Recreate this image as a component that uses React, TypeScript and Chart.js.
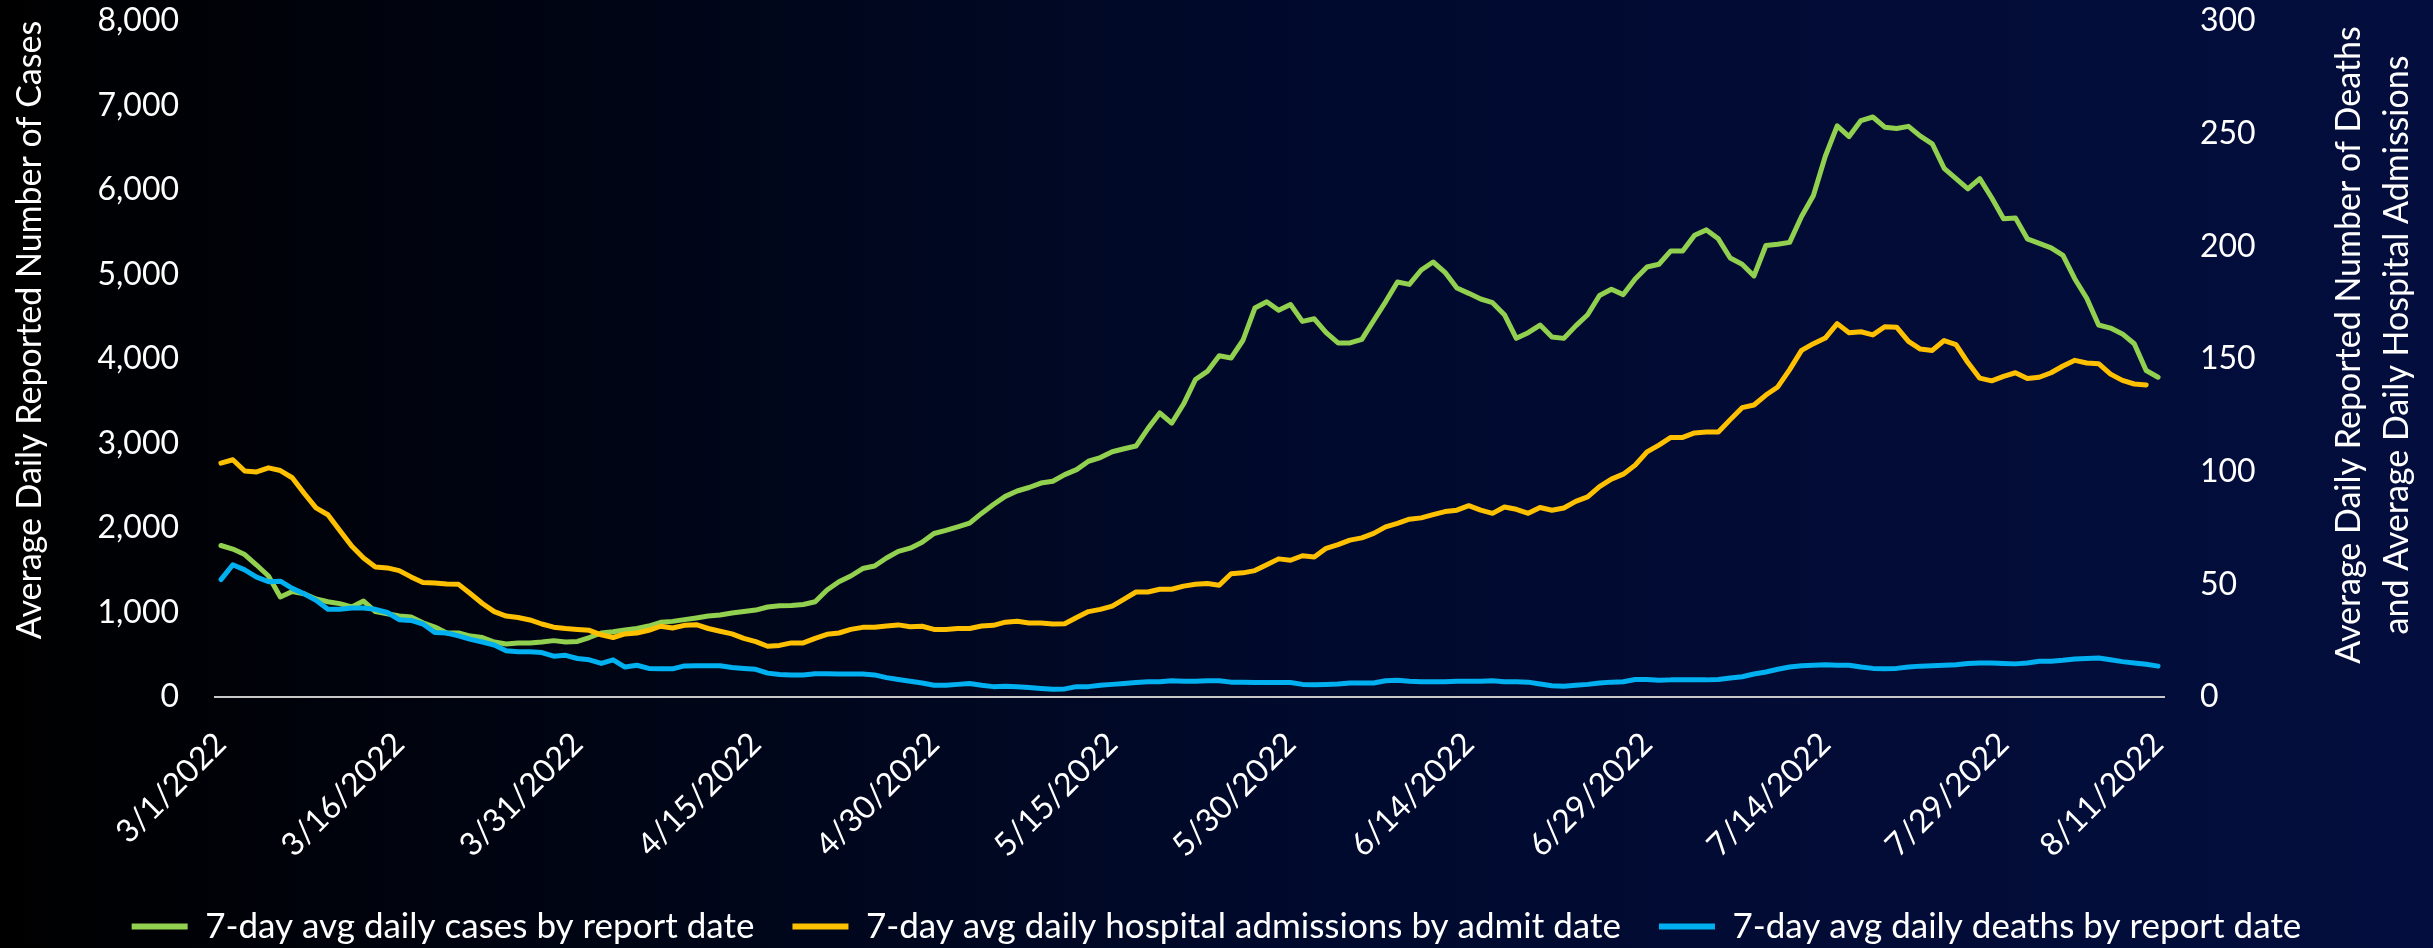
import React, { useEffect, useRef } from 'react';
import { Chart, registerables } from 'chart.js';

Chart.register(...registerables);

// 7-day avg daily cases by report date (left axis), one value per day from 3/1/2022
const CASES: number[] = [
  1793, 1751, 1686, 1562, 1432, 1183, 1248, 1221, 1160, 1127,
  1105, 1065, 1136, 1011, 985, 958, 947, 878, 828, 757,
  757, 721, 704, 651, 627, 639, 639, 651, 667, 651,
  657, 704, 757, 773, 793, 810, 840, 884, 895, 916,
  936, 958, 970, 994, 1011, 1029, 1065, 1079, 1084, 1095,
  1127, 1266, 1364, 1432, 1520, 1550, 1645, 1724, 1761, 1830,
  1935, 1972, 2014, 2057, 2173, 2278, 2374, 2438, 2479, 2532,
  2553, 2632, 2691, 2790, 2833, 2902, 2938, 2970, 3176, 3361,
  3240, 3467, 3757, 3853, 4038, 4012, 4222, 4603, 4677, 4576,
  4645, 4445, 4476, 4312, 4190, 4190, 4233, 4456, 4677, 4911,
  4883, 5053, 5148, 5026, 4840, 4777, 4710, 4666, 4524, 4245,
  4312, 4402, 4260, 4244, 4392, 4524, 4751, 4825, 4762, 4947,
  5089, 5121, 5279, 5279, 5464, 5528, 5422, 5195, 5121, 4983,
  5343, 5358, 5380, 5686, 5935, 6399, 6758, 6632, 6822, 6864,
  6743, 6727, 6753, 6637, 6547, 6257, 6135, 6014, 6135, 5908,
  5660, 5670, 5422, 5369, 5316, 5226, 4947, 4719, 4402, 4366,
  4297, 4180, 3864, 3784,
];

// 7-day avg daily hospital admissions by admit date (right axis)
const ADMISSIONS: number[] = [
  103.8, 105.3, 100.3, 99.9, 101.7, 100.5, 97.3, 90.4, 83.9, 80.9,
  73.9, 67.0, 61.7, 57.7, 57.3, 56.1, 53.3, 50.8, 50.6, 50.2,
  50.0, 45.8, 41.5, 37.9, 35.9, 35.3, 34.2, 32.4, 31.0, 30.4,
  30.0, 29.6, 27.6, 26.4, 28.0, 28.4, 29.6, 31.4, 30.6, 31.8,
  32.1, 30.4, 29.2, 28.0, 26.0, 24.6, 22.5, 22.9, 24.0, 24.0,
  26.0, 27.8, 28.4, 30.0, 30.9, 31.0, 31.5, 32.0, 31.2, 31.4,
  30.0, 30.0, 30.4, 30.4, 31.5, 31.8, 33.2, 33.6, 32.8, 32.8,
  32.4, 32.5, 35.3, 37.9, 38.9, 40.3, 43.4, 46.6, 46.6, 47.8,
  47.8, 49.2, 50.0, 50.4, 49.6, 54.7, 55.1, 56.1, 58.7, 61.3,
  60.7, 62.7, 62.1, 66.0, 67.6, 69.6, 70.6, 72.6, 75.5, 77.1,
  78.9, 79.5, 80.9, 82.3, 82.9, 84.9, 82.9, 81.5, 84.3, 83.3,
  81.5, 84.1, 82.9, 83.9, 86.8, 88.8, 93.4, 96.7, 98.9, 102.9,
  108.8, 111.8, 115.2, 115.2, 117.2, 117.6, 117.6, 123.1, 128.4, 129.6,
  134.0, 137.6, 145.3, 153.8, 156.8, 159.3, 165.7, 161.7, 162.1, 160.7,
  164.3, 164.1, 157.8, 154.4, 153.8, 158.2, 156.4, 148.4, 141.5, 140.3,
  142.3, 143.9, 141.3, 141.9, 143.9, 146.9, 149.4, 148.2, 147.9, 143.3,
  140.5, 138.9, 138.5,
];

// 7-day avg daily deaths by report date (right axis)
const DEATHS: number[] = [
  52.1, 58.7, 56.4, 53.2, 51.2, 51.4, 48.2, 45.8, 42.9, 38.9,
  38.9, 39.5, 39.5, 38.9, 37.5, 34.3, 34.0, 32.4, 28.6, 28.4,
  27.1, 25.6, 24.4, 23.1, 20.5, 20.1, 20.1, 19.7, 18.1, 18.5,
  17.1, 16.5, 14.9, 16.5, 13.3, 14.1, 12.7, 12.5, 12.5, 13.8,
  13.9, 13.9, 13.9, 13.1, 12.7, 12.3, 10.6, 10.0, 9.8, 9.8,
  10.3, 10.3, 10.2, 10.2, 10.2, 9.8, 8.6, 7.8, 7.0, 6.2,
  5.2, 5.2, 5.6, 6.0, 5.2, 4.6, 4.8, 4.6, 4.2, 3.8,
  3.4, 3.6, 4.6, 4.6, 5.2, 5.6, 6.0, 6.4, 6.8, 6.8,
  7.2, 7.0, 7.0, 7.2, 7.2, 6.6, 6.6, 6.4, 6.4, 6.4,
  6.4, 5.6, 5.4, 5.6, 5.8, 6.2, 6.2, 6.2, 7.2, 7.4,
  7.0, 6.8, 6.8, 6.8, 7.0, 7.0, 7.0, 7.2, 6.8, 6.8,
  6.6, 5.8, 5.0, 4.8, 5.2, 5.6, 6.2, 6.6, 6.8, 7.8,
  7.8, 7.4, 7.6, 7.6, 7.6, 7.6, 7.8, 8.4, 9.0, 10.2,
  11.1, 12.3, 13.3, 13.9, 14.1, 14.3, 14.1, 14.1, 13.3, 12.7,
  12.5, 12.7, 13.3, 13.7, 13.9, 14.1, 14.3, 14.9, 15.1, 15.1,
  14.9, 14.7, 15.1, 15.9, 15.9, 16.3, 16.9, 17.1, 17.3, 16.5,
  15.7, 15.1, 14.5, 13.7,
];

const FIRST_DAY = { year: 2022, month: 3, day: 1 };

// Dates shown on the x axis
const TICK_LABELS: string[] = [
  '3/1/2022', '3/16/2022', '3/31/2022', '4/15/2022', '4/30/2022', '5/15/2022',
  '5/30/2022', '6/14/2022', '6/29/2022', '7/14/2022', '7/29/2022', '8/11/2022',
];

const SERIES_NAMES: string[] = [
  '7-day avg daily cases by report date',
  '7-day avg daily hospital admissions by admit date',
  '7-day avg daily deaths by report date',
];

const LEFT_TITLE = 'Average Daily Reported Number of Cases';
const RIGHT_TITLE: string[] = [
  'Average Daily Reported Number of Deaths',
  'and Average Daily Hospital Admissions',
];

const CATEGORIES: string[] = CASES.map((_, i) => {
  const d = new Date(FIRST_DAY.year, FIRST_DAY.month - 1, FIRST_DAY.day + i);
  return `${d.getMonth() + 1}/${d.getDate()}/${d.getFullYear()}`;
});

const FONT = 'Lato, "Open Sans", "DejaVu Sans", sans-serif';
const GREEN = '#92d050';
const GOLD = '#ffc000';
const BLUE = '#00b0f0';

const backgroundPlugin = {
  id: 'bgGradient',
  beforeDraw(chart: any) {
    const { ctx, width, height } = chart;
    ctx.save();
    const g = ctx.createLinearGradient(0, 0, width, 0);
    g.addColorStop(0, '#000000');
    g.addColorStop(0.3, '#000619');
    g.addColorStop(0.55, '#000a2e');
    g.addColorStop(1, '#040e3e');
    ctx.fillStyle = g;
    ctx.fillRect(0, 0, width, height);
    ctx.restore();
  },
};

const axisTitlesPlugin = {
  id: 'axisTitles',
  afterDraw(chart: any) {
    const { ctx, chartArea, scales } = chart;
    const midY = (chartArea.top + chartArea.bottom) / 2;
    ctx.save();
    ctx.fillStyle = '#ffffff';
    ctx.font = `34px ${FONT}`;
    ctx.textAlign = 'center';
    ctx.textBaseline = 'middle';
    // left title
    ctx.save();
    ctx.translate(scales.y.left + 30, midY - 29);
    ctx.rotate(-Math.PI / 2);
    ctx.fillText(LEFT_TITLE, 0, 0);
    ctx.restore();
    // right title (two lines, reading bottom to top)
    const xs = [scales.y1.right - 84, scales.y1.right - 36];
    RIGHT_TITLE.forEach((line, i) => {
      ctx.save();
      ctx.translate(xs[i], midY - 14);
      ctx.rotate(-Math.PI / 2);
      ctx.fillText(line, 0, 0);
      ctx.restore();
    });
    ctx.restore();
  },
};

const trimVerticalPadding = (s: any) => {
  s.paddingTop = 19;
  s.paddingBottom = 19;
};

export default function App() {
  const canvasRef = useRef<HTMLCanvasElement | null>(null);

  useEffect(() => {
    if (!canvasRef.current) return;
    const tickFont = { family: FONT, size: 32 };
    const chart = new Chart(canvasRef.current, {
      type: 'line',
      data: {
        labels: CATEGORIES,
        datasets: [
          {
            label: SERIES_NAMES[0],
            data: CASES,
            borderColor: GREEN,
            backgroundColor: GREEN,
            borderWidth: 5,
            pointRadius: 0,
            tension: 0,
            yAxisID: 'y',
            order: 3,
            borderJoinStyle: 'round',
            borderCapStyle: 'round',
          },
          {
            label: SERIES_NAMES[1],
            data: ADMISSIONS,
            borderColor: GOLD,
            backgroundColor: GOLD,
            borderWidth: 5,
            pointRadius: 0,
            tension: 0,
            yAxisID: 'y1',
            order: 2,
            borderJoinStyle: 'round',
            borderCapStyle: 'round',
          },
          {
            label: SERIES_NAMES[2],
            data: DEATHS,
            borderColor: BLUE,
            backgroundColor: BLUE,
            borderWidth: 5,
            pointRadius: 0,
            tension: 0,
            yAxisID: 'y1',
            order: 1,
            borderJoinStyle: 'round',
            borderCapStyle: 'round',
          },
        ],
      },
      options: {
        animation: false,
        responsive: true,
        maintainAspectRatio: false,
        events: [],
        layout: { padding: { top: 21, left: 0, right: 0, bottom: -6 } },
        plugins: {
          tooltip: { enabled: false },
          title: { display: false },
          legend: {
            display: true,
            position: 'bottom',
            labels: {
              color: '#ffffff',
              font: { family: FONT, size: 35 },
              boxWidth: 56,
              boxHeight: 6,
              padding: 38,
              generateLabels: (c: any) =>
                c.data.datasets.map((ds: any, i: number) => ({
                  text: ds.label,
                  fillStyle: ds.borderColor,
                  strokeStyle: ds.borderColor,
                  lineWidth: 0,
                  hidden: false,
                  datasetIndex: i,
                  fontColor: '#ffffff',
                })),
            },
          },
        },
        scales: {
          x: {
            type: 'category',
            offset: true,
            grid: { display: false, drawTicks: false },
            border: { display: true, color: '#c8c8c8', width: 2 },
            ticks: {
              color: '#ffffff',
              font: tickFont,
              autoSkip: false,
              minRotation: 45,
              maxRotation: 45,
              padding: 28,
              callback: function (this: any, value: any, index: number) {
                const lab = CATEGORIES[index];
                return TICK_LABELS.includes(lab) ? lab : '';
              },
            },
            afterFit: (s: any) => {
              s.height = 174;
            },
          },
          y: {
            type: 'linear',
            position: 'left',
            min: 0,
            max: 8000,
            grid: { display: false, drawTicks: false },
            border: { display: false },
            ticks: {
              stepSize: 1000,
              color: '#ffffff',
              font: tickFont,
              padding: 36,
              callback: (v: any) => Number(v).toLocaleString('en-US'),
            },
            afterFit: (s: any) => {
              s.width = 215;
              trimVerticalPadding(s);
            },
          },
          y1: {
            type: 'linear',
            position: 'right',
            min: 0,
            max: 300,
            grid: { display: false, drawTicks: false },
            border: { display: false },
            ticks: {
              stepSize: 50,
              color: '#ffffff',
              font: tickFont,
              padding: 36,
            },
            afterFit: (s: any) => {
              s.width = 269;
              trimVerticalPadding(s);
            },
          },
        },
      },
      plugins: [backgroundPlugin, axisTitlesPlugin],
    } as any);
    return () => chart.destroy();
  }, []);

  return (
    <div style={{ position: 'fixed', left: 0, top: 0, width: 2433, height: 948 }}>
      <canvas ref={canvasRef} />
    </div>
  );
}
